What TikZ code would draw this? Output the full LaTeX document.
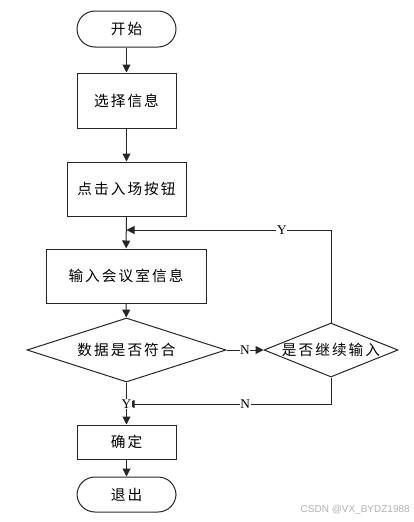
\documentclass[tikz,border=0pt]{standalone}
\usepackage{fontspec}
\setmainfont{Liberation Serif}
\newfontfamily\cjk[LetterSpace=14]{Noto Sans CJK SC}
\newfontfamily\wm{Liberation Sans}
\usetikzlibrary{shapes.geometric,arrows.meta}
\begin{document}
\begin{tikzpicture}[x=0.75pt,y=-0.75pt,
  every node/.style={font=\cjk\fontsize{11}{13}\selectfont},
  line/.style={draw=black!85,line width=0.75pt},
  flow/.style={line,-{Triangle[length=6pt,width=6pt]}},
  terminal/.style={line,rounded corners=13.5pt,minimum width=74.25pt,minimum height=27pt,inner sep=0pt},
  proc/.style={line,minimum height=40.5pt,inner sep=0pt},
  decision/.style={line,diamond,inner sep=0pt},
  yn/.style={font=\rmfamily\fontsize{10}{11}\selectfont,fill=white,inner sep=0.5pt}]
\useasboundingbox (0,0) rectangle (414,522);
\node[terminal] (start) at (126.5,29) {开始};
\node[proc,minimum width=74.25pt,minimum height=41.25pt] (select) at (126.5,100.5) {选择信息};
\node[proc,minimum width=89.25pt] (click) at (126.5,189) {点击入场按钮};
\node[proc,minimum width=120pt] (input) at (126,276) {输入会议室信息};
\node[decision,minimum width=149.25pt,minimum height=48pt,aspect=3.1,label=center:数据是否符合] (check) at (126.5,350) {};
\node[decision,minimum width=100.5pt,minimum height=40.5pt,aspect=2.48,label=center:是否继续输入] (again) at (331,350) {};
\node[proc,minimum width=74.25pt,minimum height=25.5pt] (ok) at (126.5,442) {确定};
\node[terminal,minimum height=26.25pt] (exit) at (126.5,494.5) {退出};
\coordinate (merge) at (126.5,230);
\coordinate (join) at (126.5,404);
\draw[flow] (start) -- (select);
\draw[flow] (select) -- (click);
\draw[flow] (click) -- (input);
\draw[flow] (input) -- (check);
\draw[flow] (check.east) -- node[yn]{N} (again.west);
\draw[flow] (again.north) |- node[yn,pos=0.62]{Y} (merge);
\draw[flow] (check.south) -- (ok.north);
\draw[flow] (again.south) |- node[yn,pos=0.71]{N} (join);
\node[yn] (ylab) at (126.5,404) {Y};
\draw[flow] (ok) -- (exit);
\node[font=\wm\fontsize{7.5}{9}\selectfont,text=black!30,anchor=east,inner sep=0pt] (mark) at (410,510) {CSDN @VX\_BYDZ1988};
\end{tikzpicture}
\end{document}
